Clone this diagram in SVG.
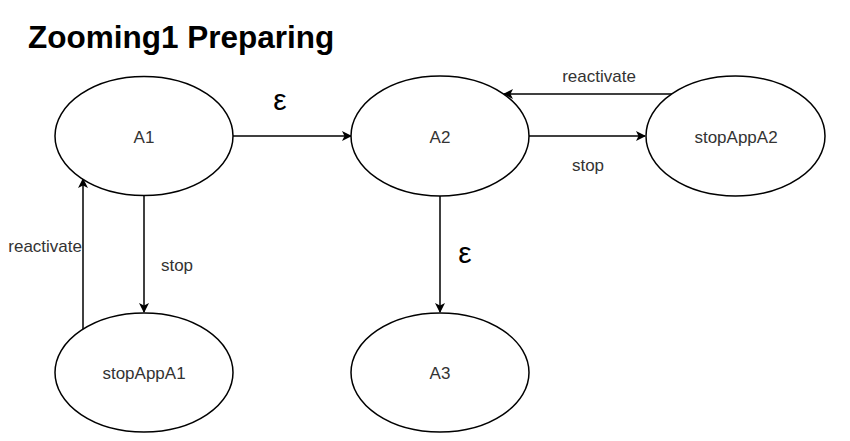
<svg xmlns="http://www.w3.org/2000/svg" width="850" height="441" viewBox="0 0 850 441">
<style>
.n{fill:#fff;stroke:#000;stroke-width:1.5}
.t{font-family:"Liberation Sans",Arial,sans-serif;font-size:17px;fill:#333;text-anchor:middle}
.e{font-family:"Liberation Sans",Arial,sans-serif;font-size:30px;fill:#000;text-anchor:middle}
.c{fill:none;stroke:#000;stroke-width:1.5}
</style>
<defs>
<marker id="ah" viewBox="0 0 10 10" refX="9" refY="5" markerWidth="10" markerHeight="10" markerUnits="userSpaceOnUse" orient="auto">
<path d="M0,0 L10,5 L0,10 L2.5,5 z" fill="#000"/>
</marker>
</defs>
<rect width="850" height="441" fill="#fff"/>
<text x="28" y="48" font-family="'Liberation Sans',Arial,sans-serif" font-size="31.5" font-weight="bold" fill="#000">Zooming1 Preparing</text>
<g id="connectors">
<line class="c" x1="233" y1="136" x2="351" y2="136" marker-end="url(#ah)"/>
<text class="e" x="280" y="110">ε</text>
<line class="c" x1="144" y1="195" x2="144" y2="312" marker-end="url(#ah)"/>
<text class="t" x="177" y="271">stop</text>
<line class="c" x1="83" y1="329" x2="83" y2="179" marker-end="url(#ah)"/>
<text class="t" x="82" y="252" style="text-anchor:end">reactivate</text>
<line class="c" x1="528" y1="136" x2="645" y2="136" marker-end="url(#ah)"/>
<text class="t" x="588" y="171">stop</text>
<line class="c" x1="672" y1="94" x2="504" y2="94" marker-end="url(#ah)"/>
<text class="t" x="599" y="82">reactivate</text>
<line class="c" x1="440" y1="196" x2="440" y2="312" marker-end="url(#ah)"/>
<text class="e" x="465" y="263">ε</text>
</g>
<g id="A1"><ellipse class="n" cx="144" cy="136" rx="89" ry="59.5"/><text class="t" x="144" y="143">A1</text></g>
<g id="A2"><ellipse class="n" cx="440" cy="136" rx="89" ry="60"/><text class="t" x="440" y="143">A2</text></g>
<g id="stopAppA2"><ellipse class="n" cx="735.5" cy="136" rx="89.5" ry="60"/><text class="t" x="736" y="143">stopAppA2</text></g>
<g id="stopAppA1"><ellipse class="n" cx="144" cy="372.5" rx="89" ry="59.5"/><text class="t" x="144" y="379">stopAppA1</text></g>
<g id="A3"><ellipse class="n" cx="440" cy="372.5" rx="89" ry="59.5"/><text class="t" x="440" y="379">A3</text></g>
</svg>
